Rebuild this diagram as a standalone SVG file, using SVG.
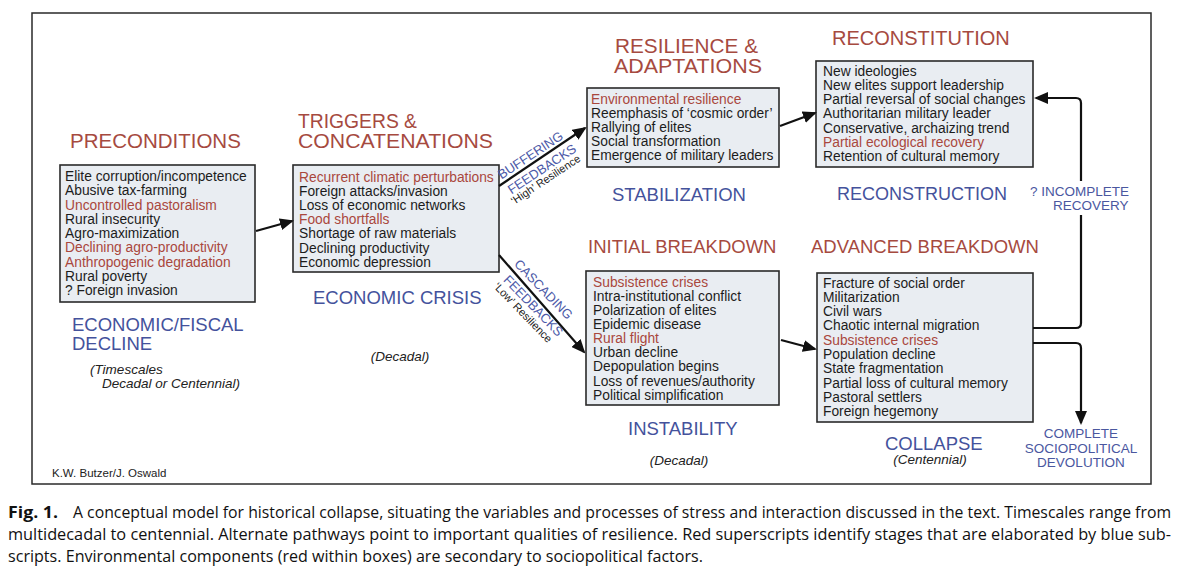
<svg xmlns="http://www.w3.org/2000/svg" width="1181" height="569" viewBox="0 0 1181 569">
<style>
text{font-family:"Liberation Sans",Arial,sans-serif}
.box{fill:#e9edf2;stroke:#2a2a2a;stroke-width:1.6}
.bt{font-size:13.8px;fill:#1c1c1c}
.r{fill:#a9473d}
.ti{font-size:20.5px;fill:#a64a3f}
.ti2{font-size:18.5px;fill:#a64a3f}
.sub{font-size:18.5px;fill:#44529c}
.it{font-size:13.5px;font-style:italic;fill:#222}
.fb{font-size:13px;fill:#4d5aa8}
.rs{font-size:11px;fill:#222}
.bl{font-size:13.5px;fill:#4a579f}
.conn{stroke:#111;stroke-width:2.2;fill:none}
.cap{font-family:"Open Sans","Noto Sans",sans-serif;font-size:15.5px;fill:#111}
</style>
<defs>
<marker id="ah" markerWidth="14" markerHeight="12" refX="12" refY="6" orient="auto" markerUnits="userSpaceOnUse">
<path d="M0,0 L14,6 L0,12 z" fill="#111"/>
</marker>
</defs>
<rect x="0" y="0" width="1181" height="569" fill="#fff"/>
<rect x="32" y="13" width="1119" height="471" fill="#fff" stroke="#2a2a2a" stroke-width="1.5"/>

<g id="preconditions">
<text class="ti" x="70" y="147.5">PRECONDITIONS</text>
<rect class="box" x="60" y="165" width="195" height="137"/>
<text class="bt">
<tspan x="65" y="181">Elite corruption/incompetence</tspan>
<tspan x="65" dy="14.25">Abusive tax-farming</tspan>
<tspan x="65" dy="14.25" class="r">Uncontrolled pastoralism</tspan>
<tspan x="65" dy="14.25">Rural insecurity</tspan>
<tspan x="65" dy="14.25">Agro-maximization</tspan>
<tspan x="65" dy="14.25" class="r">Declining agro-productivity</tspan>
<tspan x="65" dy="14.25" class="r">Anthropogenic degradation</tspan>
<tspan x="65" dy="14.25">Rural poverty</tspan>
<tspan x="65" dy="14.25">? Foreign invasion</tspan>
</text>
<text class="sub" x="72" y="330.5">ECONOMIC/FISCAL</text>
<text class="sub" x="72" y="350">DECLINE</text>
<text class="it" x="90" y="373.5">(Timescales</text>
<text class="it" x="102" y="387.5">Decadal or Centennial)</text>
</g>

<g id="triggers">
<text class="ti" x="298" y="127.5" style="font-size:20px" textLength="119" lengthAdjust="spacingAndGlyphs">TRIGGERS &amp;</text>
<text class="ti" x="298" y="148" style="font-size:20px" textLength="195" lengthAdjust="spacingAndGlyphs">CONCATENATIONS</text>
<rect class="box" x="293" y="165" width="206" height="107"/>
<text class="bt">
<tspan x="299" y="181.5" class="r">Recurrent climatic perturbations</tspan>
<tspan x="299" dy="14.2">Foreign attacks/invasion</tspan>
<tspan x="299" dy="14.2">Loss of economic networks</tspan>
<tspan x="299" dy="14.2" class="r">Food shortfalls</tspan>
<tspan x="299" dy="14.2">Shortage of raw materials</tspan>
<tspan x="299" dy="14.2">Declining productivity</tspan>
<tspan x="299" dy="14.2">Economic depression</tspan>
</text>
<text class="sub" x="313" y="303.6">ECONOMIC CRISIS</text>
<text class="it" x="400" y="360.5" text-anchor="middle">(Decadal)</text>
</g>

<g id="resilience">
<text class="ti" x="615" y="52.5" style="font-size:20px" textLength="143" lengthAdjust="spacingAndGlyphs">RESILIENCE &amp;</text>
<text class="ti" x="614" y="72.5" style="font-size:20px" textLength="148" lengthAdjust="spacingAndGlyphs">ADAPTATIONS</text>
<rect class="box" x="587" y="88" width="192" height="79"/>
<text class="bt">
<tspan x="591" y="103.5" class="r">Environmental resilience</tspan>
<tspan x="591" dy="14.2">Reemphasis of ‘cosmic order’</tspan>
<tspan x="591" dy="14.2">Rallying of elites</tspan>
<tspan x="591" dy="14.2">Social transformation</tspan>
<tspan x="591" dy="14.2">Emergence of military leaders</tspan>
</text>
<text class="sub" x="612" y="200.6">STABILIZATION</text>
</g>

<g id="initial-breakdown">
<text class="ti2" x="588" y="252.6">INITIAL BREAKDOWN</text>
<rect class="box" x="586" y="271" width="193" height="134"/>
<text class="bt">
<tspan x="593" y="286.5" class="r">Subsistence crises</tspan>
<tspan x="593" dy="14.15">Intra-institutional conflict</tspan>
<tspan x="593" dy="14.15">Polarization of elites</tspan>
<tspan x="593" dy="14.15">Epidemic disease</tspan>
<tspan x="593" dy="14.15" class="r">Rural flight</tspan>
<tspan x="593" dy="14.15">Urban decline</tspan>
<tspan x="593" dy="14.15">Depopulation begins</tspan>
<tspan x="593" dy="14.15">Loss of revenues/authority</tspan>
<tspan x="593" dy="14.15">Political simplification</tspan>
</text>
<text class="sub" x="628" y="434.6">INSTABILITY</text>
<text class="it" x="679" y="464.5" text-anchor="middle">(Decadal)</text>
</g>

<g id="reconstitution">
<text class="ti" x="832" y="45.2" style="font-size:20px">RECONSTITUTION</text>
<rect class="box" x="816" y="61" width="217" height="106"/>
<text class="bt">
<tspan x="823" y="75.5">New ideologies</tspan>
<tspan x="823" dy="14.3">New elites support leadership</tspan>
<tspan x="823" dy="14.3">Partial reversal of social changes</tspan>
<tspan x="823" dy="14.3">Authoritarian military leader</tspan>
<tspan x="823" dy="14.3">Conservative, archaizing trend</tspan>
<tspan x="823" dy="14.3" class="r">Partial ecological recovery</tspan>
<tspan x="823" dy="14.3">Retention of cultural memory</tspan>
</text>
<text class="sub" x="837" y="199.6" style="font-size:18px">RECONSTRUCTION</text>
</g>

<g id="advanced-breakdown">
<text class="ti2" x="811" y="252.6">ADVANCED BREAKDOWN</text>
<rect class="box" x="817" y="273" width="216" height="149"/>
<text class="bt">
<tspan x="823" y="287.5">Fracture of social order</tspan>
<tspan x="823" dy="14.3">Militarization</tspan>
<tspan x="823" dy="14.3">Civil wars</tspan>
<tspan x="823" dy="14.3">Chaotic internal migration</tspan>
<tspan x="823" dy="14.3" class="r">Subsistence crises</tspan>
<tspan x="823" dy="14.3">Population decline</tspan>
<tspan x="823" dy="14.3">State fragmentation</tspan>
<tspan x="823" dy="14.3">Partial loss of cultural memory</tspan>
<tspan x="823" dy="14.3">Pastoral settlers</tspan>
<tspan x="823" dy="14.3">Foreign hegemony</tspan>
</text>
<text class="sub" x="885" y="449.6">COLLAPSE</text>
<text class="it" x="930" y="463.5" text-anchor="middle">(Centennial)</text>
</g>

<g id="incomplete-recovery">
<text class="bl" x="1030" y="196">? INCOMPLETE</text>
<text class="bl" x="1053" y="209.5">RECOVERY</text>
</g>

<g id="devolution">
<text class="bl" x="1081" y="438" text-anchor="middle">COMPLETE</text>
<text class="bl" x="1081" y="452.5" text-anchor="middle">SOCIOPOLITICAL</text>
<text class="bl" x="1081" y="467" text-anchor="middle">DEVOLUTION</text>
</g>

<g id="connectors">
<line class="conn" x1="256" y1="231" x2="292" y2="221" marker-end="url(#ah)"/>
<line class="conn" x1="499" y1="186" x2="585" y2="128" marker-end="url(#ah)"/>
<line class="conn" x1="499" y1="255" x2="584" y2="352" marker-end="url(#ah)"/>
<line class="conn" x1="780" y1="126" x2="815" y2="113" marker-end="url(#ah)"/>
<line class="conn" x1="781" y1="340" x2="815" y2="349" marker-end="url(#ah)"/>
<path class="conn" d="M1033,328 H1076 Q1081,328 1081,323 V215"/>
<path class="conn" d="M1081,181 V103 Q1081,98 1076,98 H1036" marker-end="url(#ah)"/>
<path class="conn" d="M1033,343 H1076 Q1081,343 1081,348 V423" marker-end="url(#ah)"/>
<text class="fb" transform="translate(501.5,179.6) rotate(-33.5)">BUFFERING</text>
<text class="fb" transform="translate(511.5,194.5) rotate(-33.5)">FEEDBACKS</text>
<text class="rs" transform="translate(514,205) rotate(-33.5)">‘High’ Resilience</text>
<text class="fb" transform="translate(513.5,264.8) rotate(46)">CASCADING</text>
<text class="fb" transform="translate(502.8,280.6) rotate(46)">FEEDBACKS</text>
<text class="rs" transform="translate(493,287) rotate(46)">‘Low’ Resilience</text>
</g>

<text style="font-size:11.5px;fill:#222" x="52" y="477">K.W. Butzer/J. Oswald</text>

<g id="caption">
<text class="cap" x="8" y="518" font-weight="bold" textLength="50" lengthAdjust="spacingAndGlyphs">Fig. 1.</text>
<text class="cap" x="73" y="518" textLength="1098" lengthAdjust="spacingAndGlyphs">A conceptual model for historical collapse, situating the variables and processes of stress and interaction discussed in the text. Timescales range from</text>
<text class="cap" x="8" y="540" textLength="1163" lengthAdjust="spacingAndGlyphs">multidecadal to centennial. Alternate pathways point to important qualities of resilience. Red superscripts identify stages that are elaborated by blue sub-</text>
<text class="cap" x="8" y="562" textLength="695" lengthAdjust="spacingAndGlyphs">scripts. Environmental components (red within boxes) are secondary to sociopolitical factors.</text>
</g>
</svg>
